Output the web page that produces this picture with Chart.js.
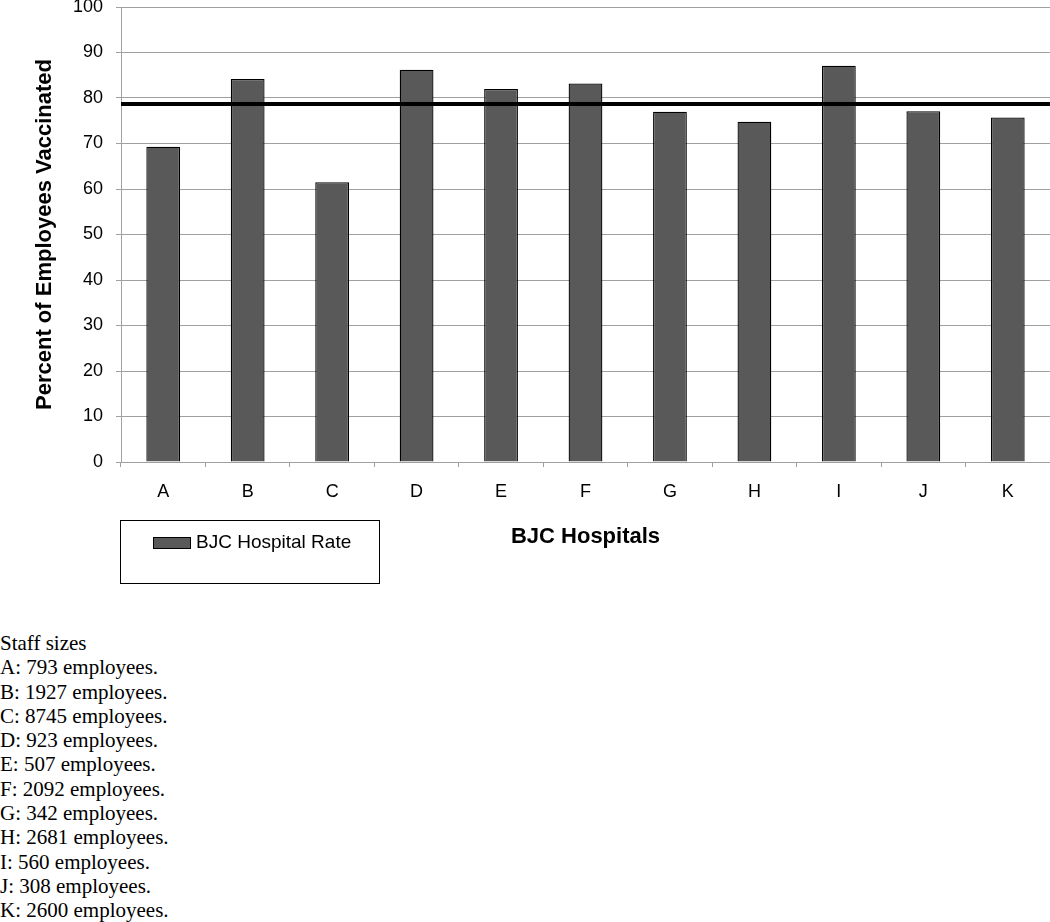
<!DOCTYPE html>
<html lang="en">
<head>
<meta charset="UTF-8">
<title>BJC Hospitals vaccination rate</title>
<style>
  body { margin: 0; background: #fff; }
  .grafico { position: relative; width: 1050px; height: 600px; }
  .legenda {
    position: absolute; left: 120px; top: 520px; width: 258px; height: 62px;
    border: 1.5px solid #000; font: 19px "Liberation Sans", Arial, sans-serif;
  }
  .legenda span.cor {
    position: absolute; left: 32px; top: 16px; width: 36px; height: 10px;
    background: #595959; border: 1px solid #000;
  }
  .legenda span.txt { position: absolute; left: 75px; top: 10px; }
  .staff {
    font: 21px "Liberation Serif", "Times New Roman", serif; line-height: 24.3px;
    margin-top: 31px; color: #000;
  }
</style>
</head>
<body>
<div class="grafico">
  <canvas id="myChart" width="1050" height="600"></canvas>
  <div class="legenda"><span class="cor"></span><span class="txt" id="legendaTxt"></span></div>
</div>
<div class="staff" id="staff"></div>

<script src="https://cdn.jsdelivr.net/npm/chart.js"></script>
<script>
// dados
const hospitals = ['A', 'B', 'C', 'D', 'E', 'F', 'G', 'H', 'I', 'J', 'K'];
const hospitalRate = [69.3, 84.2, 61.5, 86.2, 82.0, 83.2, 77.0, 74.8, 87.1, 77.1, 75.7];
const bjcOverallRate = 78.7;
const staffSizes = [793, 1927, 8745, 923, 507, 2092, 342, 2681, 560, 308, 2600];
const yTicks = [0, 10, 20, 30, 40, 50, 60, 70, 80, 90, 100];

const fonte = '"Liberation Sans", Arial, sans-serif';
const cinza = '#a0a0a0';

// linha preta da taxa geral, cobre toda a largura da area do grafico
const linhaMedia = {
  id: 'linhaMedia',
  afterDatasetsDraw(chart) {
    const y = chart.scales.y.getPixelForValue(bjcOverallRate);
    const area = chart.chartArea;
    const c = chart.ctx;
    c.save();
    c.strokeStyle = '#000';
    c.lineWidth = 4;
    c.beginPath();
    c.moveTo(area.left, y);
    c.lineTo(area.right, y);
    c.stroke();
    c.restore();
  }
};

const ctx = document.getElementById('myChart');
const barChart = new Chart(ctx, {
  type: 'bar',
  data: {
    labels: hospitals,
    datasets: [{
      label: 'BJC Hospital Rate',
      data: hospitalRate,
      backgroundColor: '#595959',
      borderColor: '#000',
      borderWidth: 1.3,
      barPercentage: 0.4,
      categoryPercentage: 1
    }]
  },
  options: {
    responsive: false,
    animation: false,
    layout: { padding: { top: 7, right: 0, bottom: 38, left: 0 } },
    plugins: {
      legend: { display: false },
      tooltip: { enabled: false }
    },
    scales: {
      x: {
        grid: { offset: true, drawOnChartArea: false, drawTicks: true, tickLength: 5, color: cinza },
        border: { color: cinza },
        ticks: { color: '#000', padding: 14, font: { family: fonte, size: 18 } },
        title: {
          display: true, text: 'BJC Hospitals', color: '#000',
          font: { family: fonte, size: 22, weight: 'bold' },
          padding: { top: 0, bottom: 12 }
        },
        afterFit(scale) { scale.height = 100; scale.paddingLeft = 0; scale.paddingRight = 0; }
      },
      y: {
        min: 0, max: 100,
        afterBuildTicks(scale) { scale.ticks = yTicks.map(v => ({ value: v })); },
        grid: { color: cinza, tickLength: 5 },
        border: { color: cinza },
        ticks: { color: '#000', padding: 13, font: { family: fonte, size: 18 } },
        title: {
          display: true, text: 'Percent of Employees Vaccinated', color: '#000',
          font: { family: fonte, size: 22, weight: 'bold' },
          padding: { top: 32, bottom: 0 }
        },
        afterFit(scale) { scale.width = 121; scale.paddingTop = 0; scale.paddingBottom = 0; }
      }
    }
  },
  plugins: [linhaMedia]
});

document.getElementById('legendaTxt').textContent = barChart.data.datasets[0].label;

// texto com o tamanho das equipes
const staff = document.getElementById('staff');
let linhas = ['Staff sizes'];
hospitals.forEach((h, i) => linhas.push(h + ': ' + staffSizes[i] + ' employees.'));
staff.innerHTML = linhas.map(l => '<div>' + l + '</div>').join('');
</script>
</body>
</html>
